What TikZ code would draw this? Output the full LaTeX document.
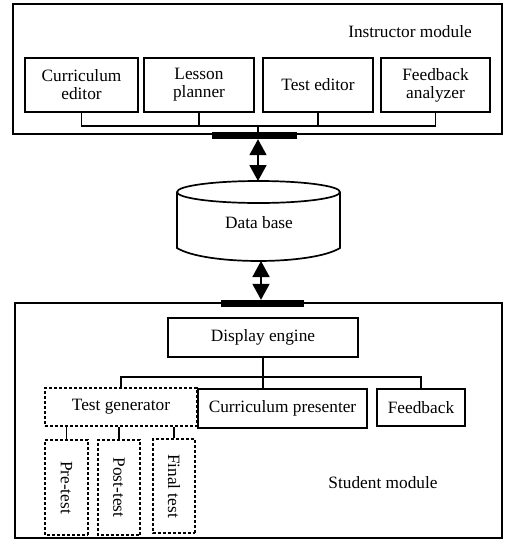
\documentclass[tikz,border=0pt]{standalone}
\usepackage{fontspec}
\setmainfont{Liberation Serif}
\usetikzlibrary{arrows.meta}
\begin{document}
\begin{tikzpicture}[x=1pt,y=-1pt,
    every node/.style={font=\fontsize{17.3}{18}\selectfont},
    box/.style={draw,line width=2.2pt,align=center,inner sep=0pt},
    dbox/.style={box,densely dashed,line width=1.8pt},
    bar/.style={fill=black,inner sep=0pt,minimum height=7pt},
    module/.style={line width=1.7pt},
    link/.style={line width=1.8pt},
    dbl/.style={line width=1.8pt,{Triangle[length=16pt,width=17pt]}-{Triangle[length=16pt,width=17pt]}}]
  \useasboundingbox (0,0) rectangle (505,550);

  % Instructor module
  \draw[module] (13,4) rectangle (502,134);
  \node (inst) at (410,32) {Instructor module};
  \node[box,minimum width=113pt,minimum height=54pt] (ce) at (81.5,85) {Curriculum\\editor};
  \node[box,minimum width=110pt,minimum height=54pt] (lp) at (199,85) {Lesson\\planner};
  \node[box,minimum width=110pt,minimum height=54pt] (te) at (318,85) {Test editor};
  \node[box,minimum width=109pt,minimum height=54pt] (fa) at (435.5,85) {Feedback\\analyzer};
  \coordinate (ibus) at (258,126);
  \draw[link] (ce.south) |- (ibus) -| (fa.south);
  \draw[link] (lp.south) -- (lp.south |- ibus);
  \draw[link] (te.south) -- (te.south |- ibus);
  \node[bar,minimum width=85pt] (topbar) at (254.5,135.5) {};
  \draw[link] (ibus) -- (ibus |- topbar.north);

  % Data base
  \draw[module] (258.5,192) ellipse [x radius=81.5pt,y radius=11pt];
  \draw[module] (177,192) -- (177,248)
    .. controls (205,265.3) and (312,265.3) .. (340,248) -- (340,192);
  \node (db) at (259,223) {Data base};
  \coordinate (dbtop) at (258,181);
  \coordinate (dbbot) at (261,261);
  \draw[dbl] (dbtop |- topbar.south) -- (dbtop);

  % Student module
  \draw[module] (15,303) rectangle (502,538);
  \node[bar,minimum width=83pt] (botbar) at (262.5,303.5) {};
  \draw[dbl] (dbbot) -- (dbbot |- botbar.north);
  \node (stud) at (383,483) {Student module};
  \node[box,minimum width=190pt,minimum height=39pt] (de) at (263,337.5) {Display engine};
  \node[dbox,minimum width=152pt,minimum height=38pt] (tg) at (121,407) {Test generator};
  \node[box,minimum width=169pt,minimum height=39pt] (cp) at (282.5,408.5) {Curriculum presenter};
  \node[box,minimum width=88pt,minimum height=37pt] (fb) at (421,407.5) {Feedback};
  \coordinate (sbus) at (263,377);
  \draw[link] (de.south) -- (sbus);
  \draw[link] (tg.north) |- (sbus) -| (fb.north);
  \draw[link] (sbus) -- (sbus |- cp.north);

  % Tests
  \node[dbox,minimum width=95pt,minimum height=43pt,rotate=-90] (pre) at (66.5,487.5) {Pre-test};
  \node[dbox,minimum width=95pt,minimum height=42pt,rotate=-90] (post) at (119,487.5) {Post-test};
  \node[dbox,minimum width=94pt,minimum height=42pt,rotate=-90] (fin) at (174,486) {Final test};
  \draw[link] (pre.west) -- (pre.west |- tg.south);
  \draw[link] (post.west) -- (post.west |- tg.south);
  \draw[link] (fin.west) -- (fin.west |- tg.south);
\end{tikzpicture}
\end{document}
